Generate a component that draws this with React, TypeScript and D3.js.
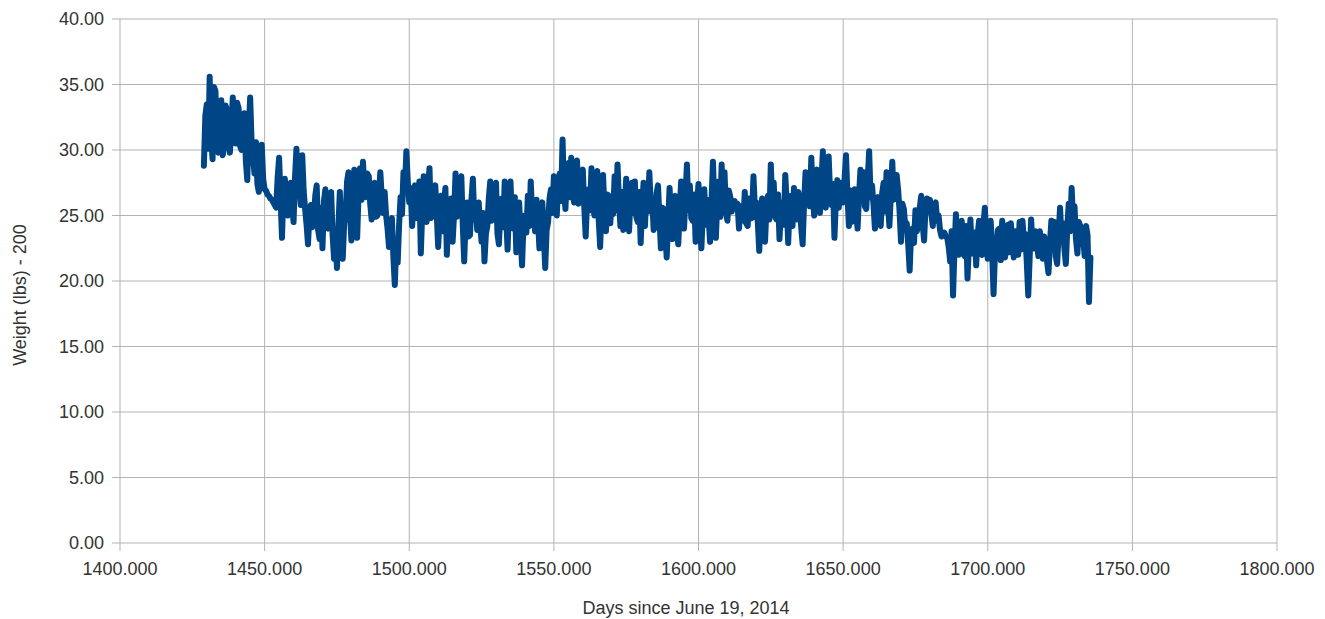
import React from "react";
import * as d3 from "d3";

// Two readings per day (morning, evening), starting on day 1429
const startDay = 1429;
const readingsPerDay = 2;
const weights: number[] = [
  28.8, 32.6, 33.5, 30.1, 35.6, 31.0, 29.3, 34.8, 34.5, 30.4,
  29.8, 32.5, 33.8, 29.6, 30.2, 33.4, 33.0, 30.8, 29.8, 32.0,
  34.0, 31.2, 30.5, 33.6, 33.2, 30.3, 30.0, 31.8, 32.8, 29.2,
  27.7, 31.5, 34.0, 30.6, 29.5, 28.2, 30.6, 27.4, 26.8, 29.0,
  30.4, 27.8, 27.0, 26.9, 26.6, 26.5, 26.3, 26.2, 26.0, 25.8,
  25.6, 27.9, 29.4, 26.4, 23.3, 26.8, 27.8, 25.4, 25.0, 27.2,
  27.5, 26.0, 24.5, 27.9, 30.1, 26.5, 27.3, 25.8, 29.6, 26.9,
  25.5, 24.3, 22.8, 25.2, 25.8, 24.1, 24.8, 26.5, 27.3, 23.9,
  23.2, 25.6, 22.5, 26.1, 27.0, 24.6, 24.0, 25.9, 26.8, 23.5,
  21.7, 23.8, 21.0, 24.2, 26.8, 23.6, 21.7, 24.4, 25.0, 27.6,
  28.3, 25.2, 23.1, 26.7, 28.5, 25.6, 23.3, 26.9, 28.6, 26.2,
  29.1, 27.0, 26.4, 28.2, 28.0, 25.9, 24.7, 26.8, 27.5, 24.9,
  25.0, 26.6, 28.3, 26.4, 25.2, 26.8, 25.0, 24.0, 22.6, 24.6,
  24.8, 21.9, 19.7, 22.8, 21.4, 24.3, 26.4, 25.1, 28.3, 27.0,
  29.9, 27.6, 26.0, 27.1, 24.2, 26.1, 27.3, 24.8, 26.0, 27.6,
  22.1, 25.3, 28.0, 25.6, 24.5, 27.2, 28.6, 24.8, 25.0, 26.9,
  27.3, 25.1, 22.6, 25.0, 26.5, 23.8, 25.8, 27.1, 22.0, 25.2,
  24.0, 26.3, 23.0, 25.1, 28.2, 24.9, 26.0, 27.4, 28.0, 24.3,
  21.5, 24.9, 26.0, 23.4, 23.5, 26.2, 27.8, 24.7, 25.5, 23.9,
  26.0, 24.4, 23.0, 25.2, 21.5, 23.6, 24.2, 26.3, 27.6, 24.6,
  25.0, 27.1, 27.5, 23.6, 22.8, 25.4, 26.3, 24.1, 27.6, 24.9,
  22.4, 25.8, 27.6, 24.6, 24.0, 26.4, 22.2, 25.1, 26.0, 23.4,
  21.2, 24.4, 25.0, 23.7, 26.5, 24.2, 27.6, 25.0, 25.5, 23.8,
  26.2, 24.7, 22.5, 25.4, 26.0, 23.6, 21.0, 23.9, 24.5, 26.3,
  27.0, 25.2, 28.0, 25.6, 25.0, 27.4, 28.2, 26.1, 30.8, 26.9,
  25.5, 28.3, 29.0, 26.4, 29.4, 27.1, 26.0, 28.6, 29.2, 25.9,
  26.8, 28.1, 28.5, 25.7, 23.4, 26.3, 27.0, 25.4, 28.6, 25.9,
  25.0, 27.6, 28.4, 24.7, 22.6, 25.8, 28.1, 25.3, 23.8, 26.6,
  26.5, 24.4, 26.3, 25.1, 28.0, 25.4, 28.9, 26.2, 24.2, 26.8,
  23.9, 25.7, 27.8, 24.6, 23.8, 26.4, 27.5, 25.2, 27.6, 24.9,
  24.5, 26.8, 22.9, 25.5, 27.5, 24.2, 27.0, 25.3, 28.3, 25.8,
  26.2, 23.9, 24.2, 26.7, 27.3, 24.8, 22.5, 25.6, 25.5, 23.6,
  21.8, 24.5, 27.1, 24.9, 23.2, 25.7, 26.5, 24.1, 22.8, 25.4,
  27.6, 25.1, 24.0, 26.5, 28.9, 25.4, 27.3, 24.8, 24.6, 26.6,
  23.0, 25.9, 27.4, 24.6, 22.5, 25.2, 27.0, 24.3, 26.2, 24.8,
  23.0, 26.1, 29.1, 25.6, 23.3, 25.9, 27.6, 24.9, 28.9, 25.7,
  28.3, 25.2, 24.6, 26.9, 26.4, 25.3, 25.8, 26.1, 25.6, 25.9,
  24.0, 25.7, 25.5, 24.6, 26.8, 24.4, 24.2, 26.3, 26.0, 24.8,
  28.0, 25.6, 26.0, 24.5, 22.3, 25.2, 26.3, 24.1, 23.0, 25.6,
  26.5, 24.7, 28.9, 25.8, 27.5, 24.9, 24.7, 26.6, 23.2, 25.4,
  26.0, 24.3, 28.1, 25.9, 22.9, 25.6, 26.5, 24.2, 27.1, 25.5,
  24.7, 26.8, 26.0, 24.1, 22.8, 25.9, 28.3, 26.1, 28.0, 25.7,
  29.4, 26.6, 25.0, 27.9, 28.5, 25.8, 25.2, 27.6, 29.9, 26.4,
  25.6, 28.2, 29.5, 26.7, 25.8, 27.4, 23.3, 26.2, 27.7, 25.6,
  27.5, 26.3, 26.0, 27.8, 29.6, 26.5, 24.2, 26.9, 24.5, 25.9,
  27.0, 25.2, 24.0, 26.6, 28.5, 26.1, 28.3, 25.7, 25.5, 27.8,
  29.9, 26.4, 27.3, 25.8, 24.0, 26.2, 26.4, 25.1, 24.2, 26.7,
  27.5, 25.3, 28.3, 25.9, 24.2, 26.5, 29.1, 26.2, 26.8, 28.1,
  27.0, 25.4, 23.0, 25.9, 25.5, 24.1, 24.4, 22.8, 20.8, 23.6,
  24.0, 22.9, 25.4, 23.8, 24.5, 25.6, 26.5, 24.3, 23.1, 25.7,
  26.3, 25.9, 26.2, 25.1, 24.2, 25.8, 26.0, 24.6, 25.0, 23.9,
  23.4, 23.5, 23.7, 23.4, 23.3, 22.6, 21.5, 23.8, 18.9, 22.4,
  25.1, 22.7, 22.0, 23.9, 24.6, 22.5, 21.9, 24.2, 20.2, 22.8,
  24.7, 22.1, 22.3, 23.7, 21.2, 23.5, 24.6, 22.2, 22.0, 24.3,
  25.6, 22.8, 21.7, 23.6, 24.6, 22.4, 19.0, 22.1, 22.5, 23.9,
  24.0, 21.6, 24.6, 22.7, 21.8, 23.5, 24.3, 22.2, 24.4, 22.9,
  21.8, 23.8, 23.6, 22.0, 24.5, 22.4, 24.6, 23.1, 23.6, 21.4,
  18.9, 21.8, 24.7, 22.6, 22.5, 23.8, 22.9, 21.9, 23.8, 22.3,
  21.7, 23.4, 23.0, 21.5, 20.6, 22.9, 24.6, 22.4, 24.5, 21.9,
  21.3, 23.6, 25.6, 23.2, 24.4, 22.5, 21.3, 24.1, 25.9, 23.8,
  27.1, 24.6, 25.7, 23.2, 22.1, 24.5, 24.2, 22.8, 23.3, 21.9,
  24.2, 23.5, 18.4, 21.8,
];

const xTicks: number[] = [1400, 1450, 1500, 1550, 1600, 1650, 1700, 1750, 1800];
const yTicks: number[] = [0, 5, 10, 15, 20, 25, 30, 35, 40];

const xTitle = "Days since June 19, 2014";
const yTitle = "Weight (lbs) - 200";

export default function App() {
  const W = 1325;
  const H = 619;
  const left = 120;
  const right = 1277;
  const top = 19;
  const bottom = 543;

  const x = d3.scaleLinear().domain([1400, 1800]).range([left, right]);
  const y = d3.scaleLinear().domain([0, 40]).range([bottom, top]);

  const pts = weights.map((v, i) => [startDay + i / readingsPerDay, v] as [number, number]);
  const line = d3
    .line<[number, number]>()
    .x((d) => x(d[0]))
    .y((d) => y(d[1]));

  const grid = "#b3b3b3";
  const font = "'Liberation Sans', Arial, sans-serif";
  const textColor = "#333333";

  return (
    <div style={{ position: "absolute", left: 0, top: 0 }}>
      <svg width={W} height={H} style={{ display: "block", background: "#ffffff" }}>
        {yTicks.map((t) => (
          <g key={"y" + t}>
            <line x1={left - 8} x2={right} y1={y(t)} y2={y(t)} stroke={grid} strokeWidth={1} />
            <text
              x={104}
              y={y(t)}
              dy="0.35em"
              textAnchor="end"
              fontFamily={font}
              fontSize={18}
              fill={textColor}
            >
              {t.toFixed(2)}
            </text>
          </g>
        ))}
        {xTicks.map((t) => (
          <g key={"x" + t}>
            <line x1={x(t)} x2={x(t)} y1={top} y2={bottom + 8} stroke={grid} strokeWidth={1} />
            <text
              x={x(t)}
              y={575}
              textAnchor="middle"
              fontFamily={font}
              fontSize={18}
              fill={textColor}
            >
              {t.toFixed(3)}
            </text>
          </g>
        ))}
        <path
          d={line(pts) || ""}
          fill="none"
          stroke="#004586"
          strokeWidth={6}
          strokeLinejoin="round"
          strokeLinecap="round"
        />
        <text
          x={686}
          y={614}
          textAnchor="middle"
          fontFamily={font}
          fontSize={18}
          fill={textColor}
        >
          {xTitle}
        </text>
        <text
          transform={`translate(26, 295) rotate(-90)`}
          textAnchor="middle"
          fontFamily={font}
          fontSize={18}
          fill={textColor}
        >
          {yTitle}
        </text>
      </svg>
    </div>
  );
}
